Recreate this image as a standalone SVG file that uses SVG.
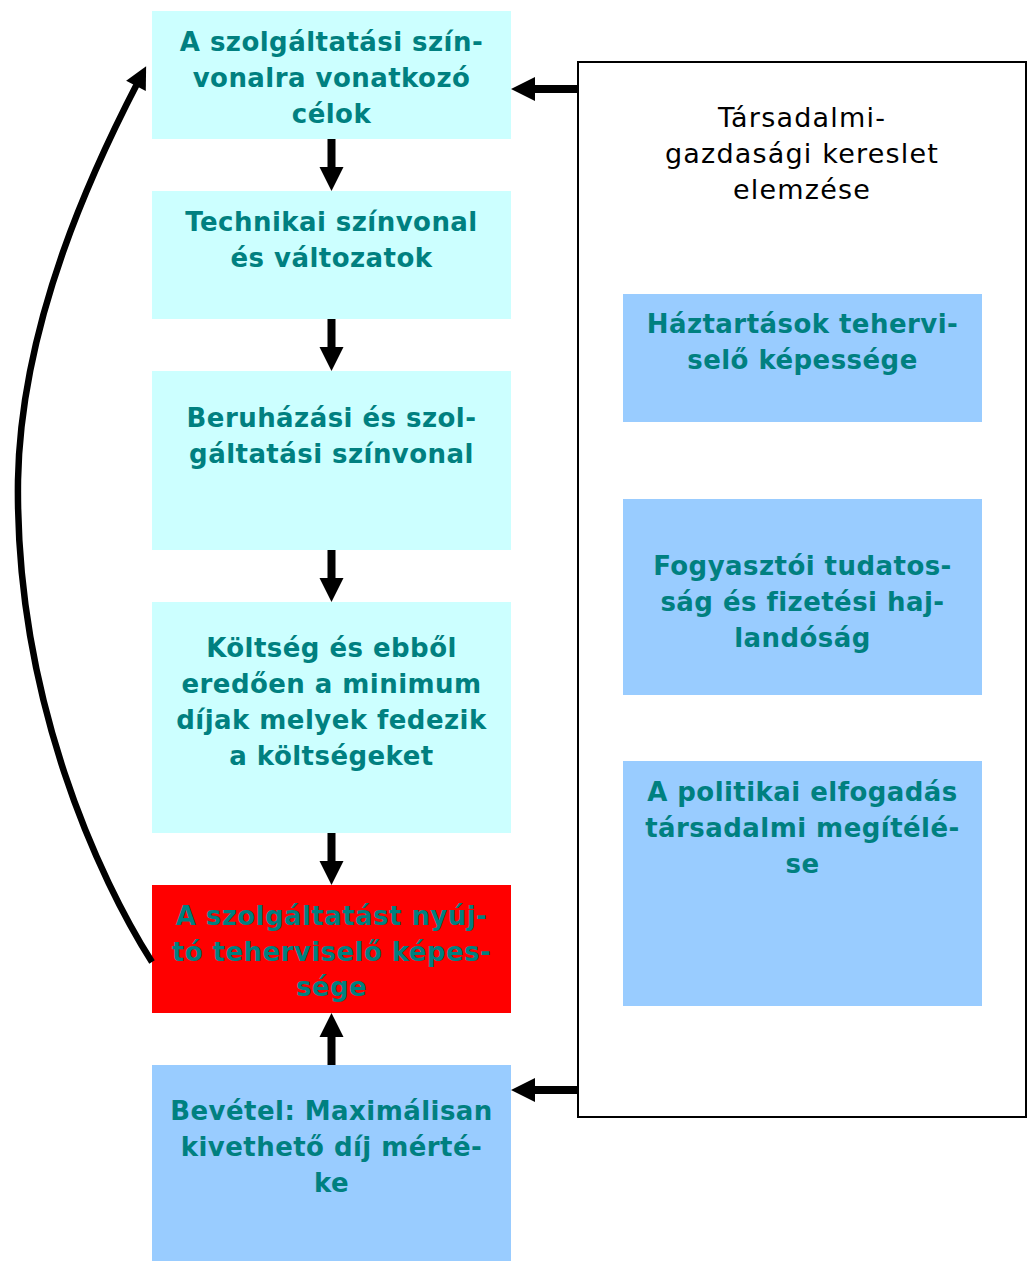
<svg xmlns="http://www.w3.org/2000/svg" width="1030" height="1261" viewBox="0 0 1030 1261">
<style>
.cy{fill:#CCFFFF}
.lb{fill:#99CCFF}
.rd{fill:#FF0000}
.t{font-family:"DejaVu Sans","Verdana",sans-serif;font-weight:bold;font-size:26px;letter-spacing:0.45px;fill:#008080;text-anchor:middle}
.n{font-family:"DejaVu Sans","Verdana",sans-serif;font-size:27px;letter-spacing:1.2px;fill:#000;text-anchor:middle}
.arr{fill:#000}
</style>
<defs>
<marker id="head" viewBox="0 0 10 10" refX="2" refY="5" markerWidth="3.8" markerHeight="3.4" orient="auto" markerUnits="strokeWidth">
<path d="M0,0 L10,5 L0,10 z" fill="#000"/>
</marker>
</defs>
<rect x="0" y="0" width="1030" height="1261" fill="#fff"/>
<g id="panel">
<rect x="578" y="62" width="448" height="1055" fill="#fff" stroke="#000" stroke-width="2"/>
<text class="n"><tspan x="802" y="127">Társadalmi-</tspan><tspan x="802" y="163">gazdasági kereslet</tspan><tspan x="802" y="199">elemzése</tspan></text>
</g>
<g id="n1"><rect class="cy" x="152" y="11" width="359" height="128"/>
<text class="t"><tspan x="331.5" y="51">A szolgáltatási szín-</tspan><tspan x="331.5" y="87">vonalra vonatkozó</tspan><tspan x="331.5" y="123">célok</tspan></text></g>
<g id="n2"><rect class="cy" x="152" y="191" width="359" height="128"/>
<text class="t"><tspan x="331.5" y="231">Technikai színvonal</tspan><tspan x="331.5" y="267">és változatok</tspan></text></g>
<g id="n3"><rect class="cy" x="152" y="371" width="359" height="179"/>
<text class="t"><tspan x="331.5" y="427">Beruházási és szol-</tspan><tspan x="331.5" y="463">gáltatási színvonal</tspan></text></g>
<g id="n4"><rect class="cy" x="152" y="602" width="359" height="231"/>
<text class="t"><tspan x="331.5" y="657">Költség és ebből</tspan><tspan x="331.5" y="693">eredően a minimum</tspan><tspan x="331.5" y="729">díjak melyek fedezik</tspan><tspan x="331.5" y="765">a költségeket</tspan></text></g>
<g id="n5"><rect class="rd" x="152" y="885" width="359" height="128"/>
<text class="t"><tspan x="331.5" y="925">A szolgáltatást nyúj-</tspan><tspan x="331.5" y="961">tó teherviselő képes-</tspan><tspan x="331.5" y="996">sége</tspan></text></g>
<g id="n6"><rect class="lb" x="152" y="1065" width="359" height="196"/>
<text class="t"><tspan x="331.5" y="1120">Bevétel: Maximálisan</tspan><tspan x="331.5" y="1156">kivethető díj mérté-</tspan><tspan x="331.5" y="1192">ke</tspan></text></g>
<g id="nA"><rect class="lb" x="623" y="294" width="359" height="128"/>
<text class="t"><tspan x="802.5" y="333">Háztartások tehervi-</tspan><tspan x="802.5" y="369">selő képessége</tspan></text></g>
<g id="nB"><rect class="lb" x="623" y="499" width="359" height="196"/>
<text class="t"><tspan x="802.5" y="575">Fogyasztói tudatos-</tspan><tspan x="802.5" y="611">ság és fizetési haj-</tspan><tspan x="802.5" y="647">landóság</tspan></text></g>
<g id="nC"><rect class="lb" x="623" y="761" width="359" height="245"/>
<text class="t"><tspan x="802.5" y="801">A politikai elfogadás</tspan><tspan x="802.5" y="837">társadalmi megítélé-</tspan><tspan x="802.5" y="873">se</tspan></text></g>
<g id="connectors">
<polygon class="arr" points="327.5,139 335.5,139 335.5,167 343.5,167 331.5,191 319.5,167 327.5,167"/>
<polygon class="arr" points="327.5,319 335.5,319 335.5,347 343.5,347 331.5,371 319.5,347 327.5,347"/>
<polygon class="arr" points="327.5,550 335.5,550 335.5,578 343.5,578 331.5,602 319.5,578 327.5,578"/>
<polygon class="arr" points="327.5,833 335.5,833 335.5,861 343.5,861 331.5,885 319.5,861 327.5,861"/>
<polygon class="arr" points="327.5,1065 335.5,1065 335.5,1037 343.5,1037 331.5,1013 319.5,1037 327.5,1037"/>
<polygon class="arr" points="578,85 535,85 535,77 511,89 535,101 535,93 578,93"/>
<polygon class="arr" points="578,1086 535,1086 535,1078 511,1090 535,1102 535,1094 578,1094"/>
<path d="M152,962 C100,880 15,700 18,480 C21,320 95,165 138,82" fill="none" stroke="#000" stroke-width="6.5" marker-end="url(#head)"/>
</g>
</svg>
